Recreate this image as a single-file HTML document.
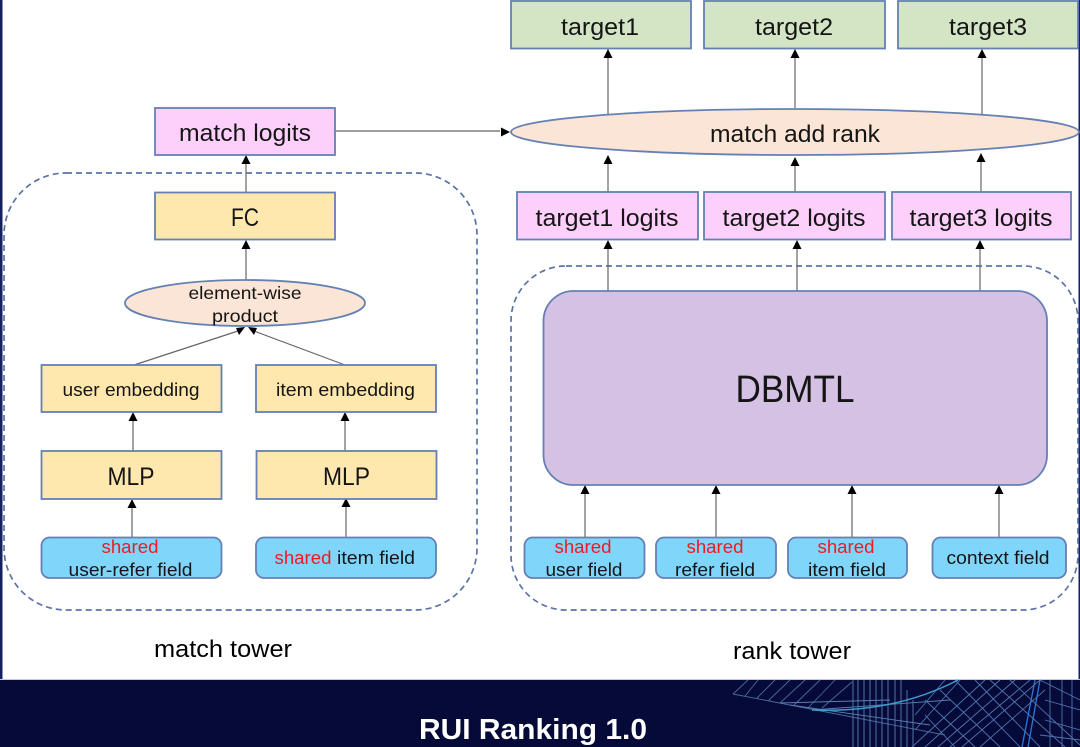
<!DOCTYPE html>
<html><head><meta charset="utf-8"><style>
html,body{margin:0;padding:0;background:#fff}
svg{display:block}
text{font-family:"Liberation Sans",sans-serif;fill:#151515;text-anchor:middle}
.b{stroke:#6580b4;stroke-width:1.8}
.g{fill:#d3e5c5}.p{fill:#fdd0fb}.y{fill:#fee8ae}.c{fill:#7fd5fa}.o{fill:#fbe5d6}
.a{stroke:#666;stroke-width:1.2;fill:none}
.d{fill:none;stroke:#5b73a5;stroke-width:1.7;stroke-dasharray:6 4}
.r{fill:#f01a24}
</style></head><body>
<svg width="1080" height="747" viewBox="0 0 1080 747" xmlns="http://www.w3.org/2000/svg">
<rect width="1080" height="747" fill="#fff"/>
<rect x="0" y="0" width="2.5" height="680" fill="#15205f"/>
<rect x="1078.5" y="0" width="1.5" height="680" fill="#15205f"/>

<!-- dashed containers -->
<rect class="d" x="4" y="173" width="473" height="437" rx="62"/>
<rect class="d" x="511" y="266" width="567" height="344" rx="55"/>

<!-- connectors -->
<path class="a" d="M608 115V55M795 108V55M982 114V55M608 192V160M795 192V162M981 192V158M608 291V246M797 291V246M980 291V246
M246 192V161M246 280V246M335 131H500M134 365L238 331M345 365L254 331M133 451V418M345 451V418M132 537V505M346 537V505
M585 537V491M716 537V491M852 537V491M999 537V491"/>
<g fill="#000">
<path d="M608 49l-4.500 9h9zM795 49l-4.500 9h9zM982 49l-4.500 9h9zM608 155l-4.500 9h9zM795 157l-4.500 9h9zM981 153l-4.500 9h9zM608 240l-4.500 9h9zM797 240l-4.500 9h9zM980 240l-4.500 9h9z"/>
<path d="M246 155l-4.500 9h9zM246 240l-4.500 9h9zM510 132l-9-4.500v9zM245 327l-9 1 3 7zM248 327l9 1-3 7zM133 412l-4.500 9h9zM345 412l-4.500 9h9zM132 499l-4.500 9h9zM346 498l-4.500 9h9z"/>
<path d="M585 485l-4.500 9h9zM716 485l-4.500 9h9zM852 485l-4.500 9h9zM999 485l-4.500 9h9z"/>
</g>

<!-- targets -->
<rect class="b g" x="511" y="1" width="180" height="47.500"/>
<rect class="b g" x="704" y="1" width="181" height="47.500"/>
<rect class="b g" x="898" y="1" width="180" height="47.500"/>
<text x="600" y="35" font-size="24" textLength="78" lengthAdjust="spacingAndGlyphs">target1</text>
<text x="794" y="35" font-size="24" textLength="78" lengthAdjust="spacingAndGlyphs">target2</text>
<text x="988" y="35" font-size="24" textLength="78" lengthAdjust="spacingAndGlyphs">target3</text>

<!-- ellipse -->
<ellipse class="b o" cx="795" cy="132" rx="284" ry="23"/>
<text x="795" y="142" font-size="24" textLength="170" lengthAdjust="spacingAndGlyphs">match add rank</text>

<!-- logits -->
<rect class="b p" x="517" y="192" width="181" height="47.500"/>
<rect class="b p" x="704" y="192" width="181" height="47.500"/>
<rect class="b p" x="892" y="192" width="179" height="47.500"/>
<text x="607" y="226" font-size="24" textLength="143" lengthAdjust="spacingAndGlyphs">target1 logits</text>
<text x="794" y="226" font-size="24" textLength="143" lengthAdjust="spacingAndGlyphs">target2 logits</text>
<text x="981" y="226" font-size="24" textLength="143" lengthAdjust="spacingAndGlyphs">target3 logits</text>

<!-- DBMTL -->
<rect class="b" x="543.500" y="291" width="503.500" height="194" rx="30" fill="#d5c1e4"/>
<text x="795" y="402" font-size="38" textLength="119" lengthAdjust="spacingAndGlyphs">DBMTL</text>

<!-- rank fields -->
<rect class="b c" x="524.500" y="537.500" width="120" height="40.500" rx="8"/>
<rect class="b c" x="656" y="537.500" width="120" height="40.500" rx="8"/>
<rect class="b c" x="788" y="537.500" width="119" height="40.500" rx="8"/>
<rect class="b c" x="932.500" y="537.500" width="133.500" height="40.500" rx="8"/>
<text class="r" x="583" y="553" font-size="18" textLength="57" lengthAdjust="spacingAndGlyphs">shared</text>
<text x="584" y="576" font-size="18" textLength="77" lengthAdjust="spacingAndGlyphs">user field</text>
<text class="r" x="715" y="553" font-size="18" textLength="57" lengthAdjust="spacingAndGlyphs">shared</text>
<text x="715" y="576" font-size="18" textLength="80" lengthAdjust="spacingAndGlyphs">refer field</text>
<text class="r" x="846" y="553" font-size="18" textLength="57" lengthAdjust="spacingAndGlyphs">shared</text>
<text x="847" y="576" font-size="18" textLength="78" lengthAdjust="spacingAndGlyphs">item field</text>
<text x="998" y="564" font-size="18" textLength="103" lengthAdjust="spacingAndGlyphs">context field</text>

<!-- match tower -->
<rect class="b p" x="155" y="108" width="180" height="47"/>
<text x="245" y="141" font-size="24" textLength="132" lengthAdjust="spacingAndGlyphs">match logits</text>
<rect class="b y" x="155" y="192.500" width="180" height="47"/>
<text x="245" y="226" font-size="25" textLength="28" lengthAdjust="spacingAndGlyphs">FC</text>
<ellipse class="b o" cx="245" cy="303" rx="120" ry="23"/>
<text x="245" y="299" font-size="17.500" textLength="113" lengthAdjust="spacingAndGlyphs">element-wise</text>
<text x="245" y="322" font-size="17.500" textLength="66" lengthAdjust="spacingAndGlyphs">product</text>

<rect class="b y" x="41.500" y="365" width="180" height="47"/>
<rect class="b y" x="256" y="365" width="180" height="47"/>
<text x="131" y="396" font-size="18.500" textLength="137" lengthAdjust="spacingAndGlyphs">user embedding</text>
<text x="345.500" y="396" font-size="18.500" textLength="139" lengthAdjust="spacingAndGlyphs">item embedding</text>

<rect class="b y" x="41.500" y="451" width="180" height="48"/>
<rect class="b y" x="256.500" y="451" width="180" height="48"/>
<text x="131" y="485" font-size="25" textLength="47" lengthAdjust="spacingAndGlyphs">MLP</text>
<text x="346.500" y="485" font-size="25" textLength="47" lengthAdjust="spacingAndGlyphs">MLP</text>

<rect class="b c" x="41.500" y="537.500" width="180" height="40.500" rx="8"/>
<rect class="b c" x="256" y="537.500" width="180" height="40.500" rx="8"/>
<text class="r" x="130" y="553" font-size="18" textLength="57" lengthAdjust="spacingAndGlyphs">shared</text>
<text x="130.500" y="576" font-size="18" textLength="124" lengthAdjust="spacingAndGlyphs">user-refer field</text>
<text class="r" x="303" y="564" font-size="18" textLength="57" lengthAdjust="spacingAndGlyphs">shared</text>
<text x="376" y="564" font-size="18" textLength="78" lengthAdjust="spacingAndGlyphs">item field</text>

<!-- captions -->
<text x="223" y="657" font-size="24" style="fill:#000" textLength="138" lengthAdjust="spacingAndGlyphs">match tower</text>
<text x="792" y="659" font-size="24" style="fill:#000" textLength="118" lengthAdjust="spacingAndGlyphs">rank tower</text>

<!-- footer -->
<rect x="0" y="679" width="1080" height="1" fill="#c8ccd8"/>
<rect x="0" y="680" width="1080" height="67" fill="#050a38"/>
<g fill="none" stroke-width="0.9">
<path stroke="#4a6a9c" d="M733 694L748 680M733 694L945 735M758 680L745 696M775 680L757 698M790 680L768 701M805 680L780 703M820 680L794 705M835 680L808 708M852 682L822 708"/>
<path stroke="#5a80b0" d="M790 705L930 725M780 703L890 700M812 710L950 700"/>
<path stroke="#5c7db0" d="M853 680V747M858 680V747M864 680V747M870 680V747M876 680V747M882 680V747M888 680V747M895 680V747M901 680V747M907 690V747M913 700V747"/>
<path stroke="#4f74ad" d="M912 747L985 680M925 747L1000 680M938 747L1015 680M950 747L1030 680M962 747L1040 680M915 730L960 680M915 715L945 680M980 747L1045 690M925 700L975 747M940 690L1000 747M955 680L1020 747M975 680L1040 747M990 680L1065 747M1010 680L1080 745M925 715L955 747M1040 680L1080 700M1045 700L1080 710M1045 720L1080 730M1040 735L1080 740M1050 680V747M1062 680V747M1072 680V747"/>
</g>
<path d="M812 710C860 712 910 705 958 680" fill="none" stroke="#3f9bd0" stroke-width="1.5"/>
<path d="M1035 680L1022 747M1040 680L1028 747" fill="none" stroke="#2f78d8" stroke-width="1.3"/>
<text x="533" y="739" font-size="29" font-weight="700" style="fill:#fff" textLength="228" lengthAdjust="spacingAndGlyphs">RUI Ranking 1.0</text>
</svg>
</body></html>
